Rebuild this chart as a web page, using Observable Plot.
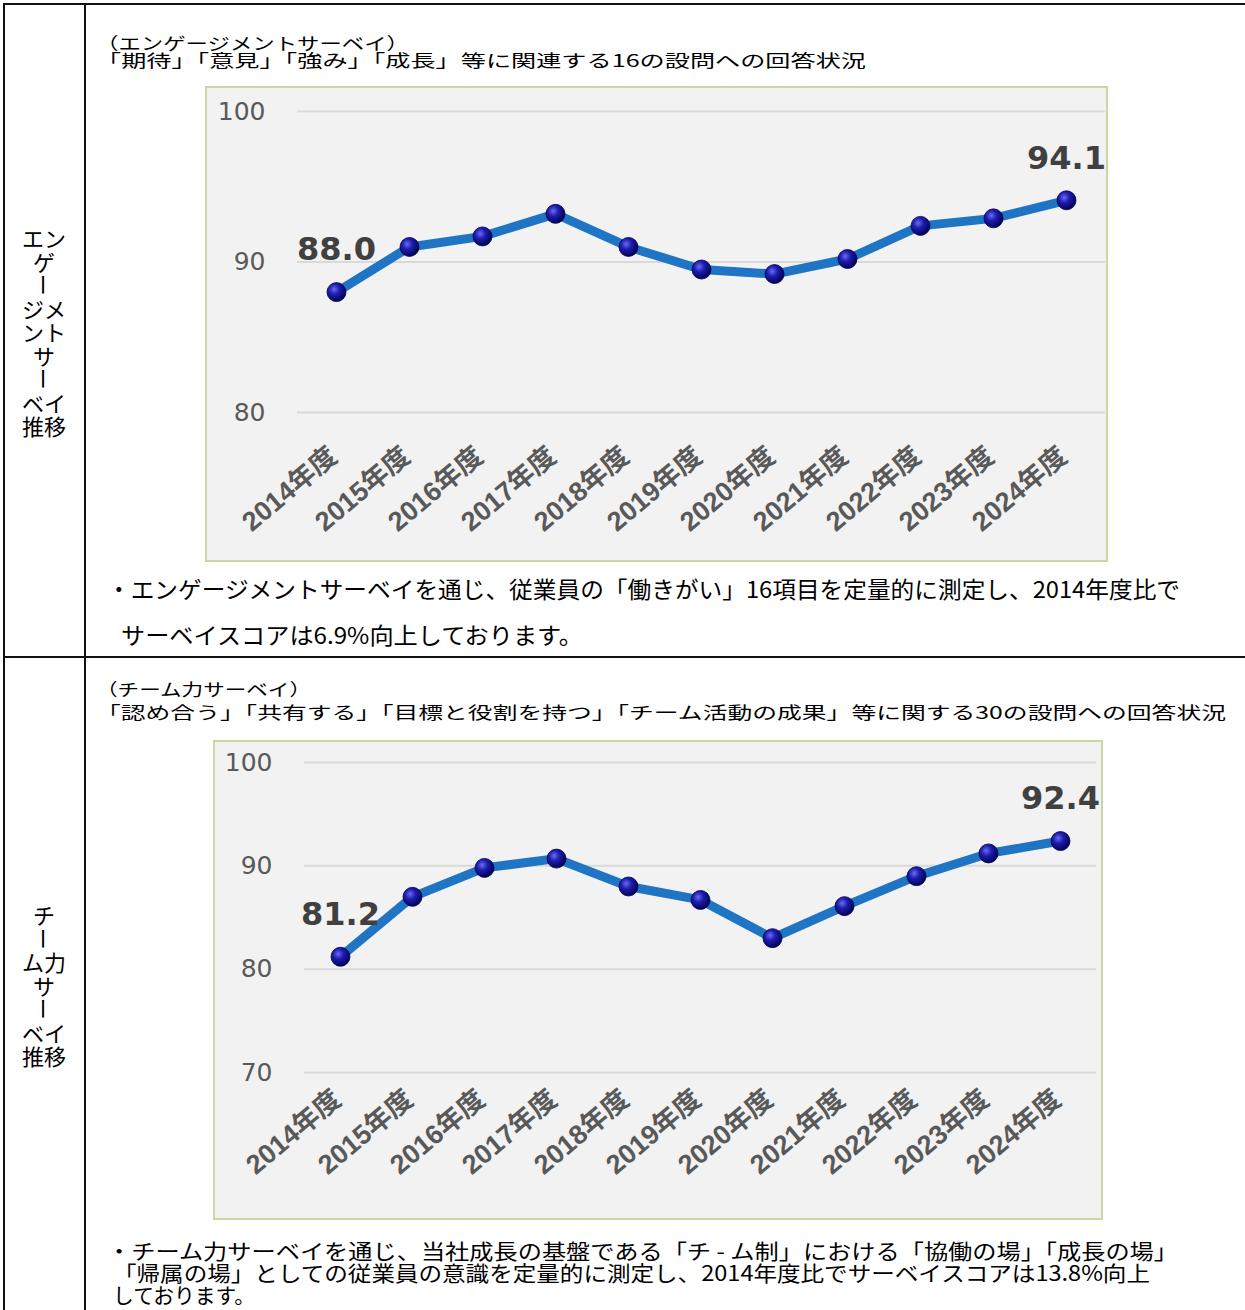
<!DOCTYPE html>
<html><head><meta charset="utf-8">
<script src="https://cdn.jsdelivr.net/npm/d3@7"></script>
<script src="https://cdn.jsdelivr.net/npm/@observablehq/plot@0.6"></script>
<style>
body{margin:0;background:#fff;width:1245px;height:1310px;position:relative;overflow:hidden;font-family:"Noto Sans CJK JP",sans-serif;color:#000}
.rule{position:absolute;background:#111}
.line{position:absolute;white-space:nowrap;transform-origin:0 0;line-height:1}
.vl{position:absolute;left:3px;width:82px;text-align:center;font-size:22px;line-height:23.5px;height:23.5px}
.vl span.rot{display:inline-block;transform:rotate(90deg)}
.frame{position:absolute;background:#f2f2f2;border:2px solid #c9d7a2;box-sizing:border-box}
.frame svg{display:block}
</style></head><body>
<script>
// ---- data ----
const xLabels = ["2014年度","2015年度","2016年度","2017年度","2018年度","2019年度","2020年度","2021年度","2022年度","2023年度","2024年度"];
const engagementScores = [88.0, 91.0, 91.7, 93.2, 91.0, 89.5, 89.2, 90.2, 92.4, 92.9, 94.1];
const teamScores = [81.2, 87.0, 89.8, 90.7, 88.0, 86.7, 83.0, 86.1, 89.0, 91.2, 92.4];
const engagementTicks = [80, 90, 100];
const teamTicks = [70, 80, 90, 100];

const row1Label = ["エン","ゲ","ー","ジメ","ント","サ","ー","ベイ","推移"];
const row2Label = ["チ","ー","ム力","サ","ー","ベイ","推移"];
const row1Sub = ["（エンゲージメントサーベイ）","「期待」「意見」「強み」「成長」等に関連する16の設問への回答状況"];
const row1Note = ["・エンゲージメントサーベイを通じ、従業員の「働きがい」16項目を定量的に測定し、2014年度比で","サーベイスコアは6.9%向上しております。"];
const row2Sub = ["（チーム力サーベイ）","「認め合う」「共有する」「目標と役割を持つ」「チーム活動の成果」等に関する30の設問への回答状況"];
const row2Note = ["・チーム力サーベイを通じ、当社成長の基盤である「チ - ム制」における「協働の場」「成長の場」","「帰属の場」としての従業員の意識を定量的に測定し、2014年度比でサーベイスコアは13.8%向上","しております。"];

// ---- table frame ----
function rule(l,t,w,h){const d=document.createElement("div");d.className="rule";Object.assign(d.style,{left:l+"px",top:t+"px",width:w+"px",height:h+"px"});document.body.appendChild(d);}
rule(3,3,1242,2); rule(3,3,2,1310); rule(84,3,2,1310); rule(3,656,1242,2);

// ---- left column labels ----
function vlabel(lines, top){
  lines.forEach((s,i)=>{
    const d=document.createElement("div");d.className="vl";d.style.top=(top+i*23.5)+"px";
    const sp=document.createElement("span");sp.textContent=s;if(s==="ー")sp.className="rot";
    d.appendChild(sp);document.body.appendChild(d);
  });
}
vlabel(row1Label, 226);
vlabel(row2Label, 903);

// ---- text lines fitted to reference widths ----
function textLine(s, left, top, size, right){
  const d=document.createElement("div");d.className="line";d.textContent=s;
  Object.assign(d.style,{left:left+"px",top:top+"px",fontSize:size+"px"});
  document.body.appendChild(d);
  const w=d.getBoundingClientRect().width;
  d.style.transform=`scaleX(${(right-left)/w})`;
}
textLine(row1Sub[0],96,34,17,409);
textLine(row1Sub[1],96,51,17,866);
textLine(row1Note[0],107,577,23,1180);
textLine(row1Note[1],121,623,23,583);
textLine(row2Sub[0],96,680,17,311);
textLine(row2Sub[1],96,703,17,1226);
textLine(row2Note[0],107,1240,21,1178);
textLine(row2Note[1],113,1262,21,1150);
textLine(row2Note[2],113,1284,21,255);

// ---- charts ----
function chart({values, ticks, left, top, fw, fh, mt, mb, ml, mr, pad, gid}){
  const data = xLabels.map((label,i)=>({label, value: values[i]}));
  const ends = [data[0], data[data.length-1]];
  const w = fw-4, h = fh-4;
  const svg = Plot.plot({
    width:w, height:h, marginTop:mt, marginBottom:mb, marginLeft:ml, marginRight:mr,
    style:{background:"transparent", overflow:"visible"},
    x:{type:"point", domain:xLabels, padding:0.5, axis:null},
    y:{domain:[ticks[0], ticks[ticks.length-1]], axis:null},
    marks:[
      Plot.ruleY(ticks,{stroke:"#d9d9d9", strokeWidth:2}),
      Plot.axisY({ticks, tickSize:0, tickPadding:32, fontSize:25, fill:"#595959", fontFamily:"DejaVu Sans", label:null}),
      Plot.text(data,{x:"label", text:"label", frameAnchor:"bottom", dy:pad, dx:-3, rotate:-40, textAnchor:"end", lineAnchor:"middle", fontSize:27, fontWeight:"bold", fill:"#595959", fontFamily:"'Liberation Sans','Noto Sans CJK JP',sans-serif"}),
      Plot.line(data,{x:"label", y:"value", stroke:"#1f74c4", strokeWidth:9}),
      Plot.dot(data,{x:"label", y:"value", r:9.5, fill:`url(#${gid})`, stroke:"#000050", strokeWidth:0.8}),
      Plot.text(ends,{x:"label", y:"value", text:d=>d.value.toFixed(1), dy:-42, fontSize:32, fontWeight:"bold", fill:"#404040", fontFamily:"DejaVu Sans"})
    ]
  });
  const ns="http://www.w3.org/2000/svg";
  const defs=document.createElementNS(ns,"defs");
  defs.innerHTML=`<radialGradient id="${gid}" cx="0.38" cy="0.35" r="0.7"><stop offset="0" stop-color="#6a6af5"/><stop offset="0.4" stop-color="#1c1cae"/><stop offset="1" stop-color="#00004a"/></radialGradient>`;
  svg.insertBefore(defs, svg.firstChild);
  const f=document.createElement("div");f.className="frame";
  Object.assign(f.style,{left:left+"px",top:top+"px",width:fw+"px",height:fh+"px"});
  f.appendChild(svg);document.body.appendChild(f);
}
chart({values:engagementScores, ticks:engagementTicks, left:205, top:86, fw:903, fh:476, mt:23, mb:148, ml:90, mr:1, pad:40, gid:"ball1"});
chart({values:teamScores, ticks:teamTicks, left:213, top:740, fw:890, fh:480, mt:20, mb:146, ml:89, mr:5, pad:23, gid:"ball2"});
</script>
</body></html>
